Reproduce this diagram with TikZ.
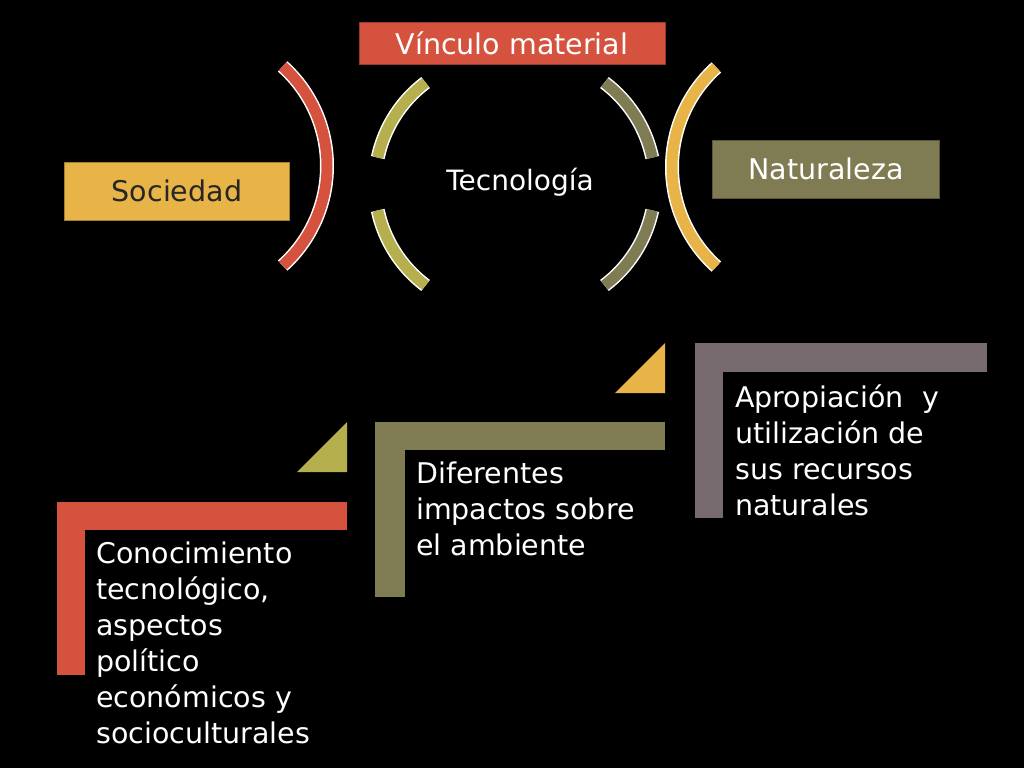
\documentclass[tikz,border=0pt]{standalone}
\usepackage{fontspec}
\setmainfont{DejaVu Sans}
\begin{document}
\begin{tikzpicture}[x=1pt,y=-1pt,
 arcst/.style={line width=14pt,white},
 arcin/.style={line width=11pt},
 lbl/.style={font=\fontsize{28.5}{36}\selectfont,text=white,align=left,anchor=north west,inner sep=0pt}]
\definecolor{cred}{HTML}{D5533E}\definecolor{cyel}{HTML}{E8B448}
\definecolor{coli}{HTML}{7F7C54}\definecolor{cgr}{HTML}{B5B04D}\definecolor{cmv}{HTML}{766A6E}
\fill[black] (0,0) rectangle (1024,768);
\useasboundingbox (0,0) rectangle (1024,768);
% arcs
\foreach \c/\a/\b/\r/\cx/\cy in {cred/-48/48/134/193/166, cyel/132/228/134/806/167,
  cgr/127/168/127/502/184, cgr/192/233/127/502/184, coli/12/53/127/528/184, coli/-53/-12/127/528/184}{
  \draw[arcst] ([shift={(\a:\r)}]\cx,\cy) arc[start angle=\a,end angle=\b,radius=\r];
  \draw[arcin,draw=\c] ([shift={(\a:\r)}]\cx,\cy) arc[start angle=\a,end angle=\b,radius=\r];
}
\node[fill=cred,draw=cred!70!black,minimum width=306pt,minimum height=42pt,font=\fontsize{28.5}{30}\selectfont,text=white] (vm) at (512,43) {Vínculo material};
\node[fill=cyel,draw=cyel!70!black,minimum width=225pt,minimum height=58pt,font=\fontsize{28.5}{30}\selectfont,text=black!85] (soc) at (177,191) {Sociedad};
\node[fill=coli,draw=coli!70!black,minimum width=227pt,minimum height=58pt,font=\fontsize{28.5}{30}\selectfont,text=white] (nat) at (826,169) {Naturaleza};
\node[font=\fontsize{28}{30}\selectfont,text=white] (tec) at (520,182) {Tecnología};
% L shapes
\fill[cred] (57,502) rectangle (347,530); \fill[cred] (57,502) rectangle (85,675);
\fill[coli] (375,422) rectangle (665,450); \fill[coli] (375,422) rectangle (405,597);
\fill[cmv] (695,343) rectangle (987,372); \fill[cmv] (695,343) rectangle (723,518);
\fill[cgr] (297,472) -- (347,422) -- (347,472) -- cycle;
\fill[cyel] (615,393) -- (665,343) -- (665,393) -- cycle;
\node[lbl] (t1) at (96,542) {Conocimiento\\tecnológico,\\aspectos\\político\\económicos y\\socioculturales};
\node[lbl] (t2) at (416,462) {Diferentes\\impactos sobre\\el ambiente};
\node[lbl] (t3) at (735,384) {Apropiación\ \ y\\utilización de\\sus recursos\\naturales};
\end{tikzpicture}
\end{document}
